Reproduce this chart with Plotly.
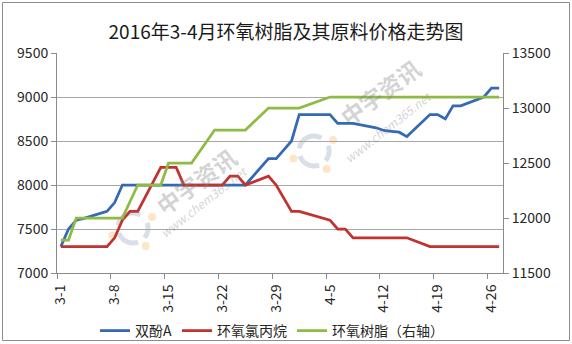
import math
import plotly.graph_objects as go

dates = ["2016-03-01", "2016-03-02", "2016-03-03", "2016-03-04", "2016-03-07", "2016-03-08",
         "2016-03-09", "2016-03-10", "2016-03-11", "2016-03-14", "2016-03-15", "2016-03-16",
         "2016-03-17", "2016-03-18", "2016-03-21", "2016-03-22", "2016-03-23", "2016-03-24",
         "2016-03-25", "2016-03-28", "2016-03-29", "2016-03-30", "2016-03-31", "2016-04-01",
         "2016-04-05", "2016-04-06", "2016-04-07", "2016-04-08", "2016-04-11", "2016-04-12",
         "2016-04-13", "2016-04-14", "2016-04-15", "2016-04-18", "2016-04-19", "2016-04-20",
         "2016-04-21", "2016-04-22", "2016-04-25", "2016-04-26", "2016-04-27"]

bpa = [7300, 7500, 7600, 7620, 7700, 7800,
       8000, 8000, 8000, 8000, 8000, 8000,
       8000, 8000, 8000, 8000, 8000, 8000,
       8000, 8300, 8300, 8400, 8500, 8800,
       8800, 8700, 8700, 8700, 8650, 8620,
       8610, 8600, 8550, 8800, 8800, 8750,
       8900, 8900, 9000, 9100, 9100]

ech = [7300, 7300, 7300, 7300, 7300, 7400,
       7600, 7700, 7700, 8200, 8200, 8200,
       8000, 8000, 8000, 8000, 8100, 8100,
       8000, 8100, 8000, 7850, 7700, 7700,
       7600, 7500, 7500, 7400, 7400, 7400,
       7400, 7400, 7400, 7300, 7300, 7300,
       7300, 7300, 7300, 7300, 7300]

epoxy = [11800, 11800, 12000, 12000, 12000, 12000,
         12000, 12150, 12300, 12300, 12500, 12500,
         12500, 12500, 12800, 12800, 12800, 12800,
         12800, 13000, 13000, 13000, 13000, 13000,
         13100, 13100, 13100, 13100, 13100, 13100,
         13100, 13100, 13100, 13100, 13100, 13100,
         13100, 13100, 13100, 13100, 13100]

tick_dates = ["2016-03-01", "2016-03-08", "2016-03-15", "2016-03-22", "2016-03-29",
              "2016-04-05", "2016-04-12", "2016-04-19", "2016-04-26"]
tick_text = ["3-1", "3-8", "3-15", "3-22", "3-29", "4-5", "4-12", "4-19", "4-26"]

series_names = ["双酚A", "环氧氯丙烷", "环氧树脂（右轴）"]
title_text = "2016年3-4月环氧树脂及其原料价格走势图"

FONT = "Noto Sans CJK SC, Noto Sans, sans-serif"
W, H = 572, 344
L, R, T, B = 57, 69, 53, 71
PW, PH = W - L - R, H - T - B

def px(x):
    return (x - L) / PW

def py(y):
    return (H - B - y) / PH

fig = go.Figure()
fig.add_trace(go.Scatter(x=dates, y=bpa, name=series_names[0], mode="lines",
                         line=dict(color="#3469b3", width=2.75)))
fig.add_trace(go.Scatter(x=dates, y=ech, name=series_names[1], mode="lines",
                         line=dict(color="#c0332e", width=2.75)))
fig.add_trace(go.Scatter(x=dates, y=epoxy, name=series_names[2], mode="lines", yaxis="y2",
                         line=dict(color="#8dbb43", width=2.75)))

# watermark (text + simple logo)
wm_color = "rgba(130,130,130,0.36)"
annotations = []
shapes = []
for (cx, cy, ux, uy) in [(196, 181, 203, 201), (380, 92, 388, 127)]:
    annotations.append(dict(text="<b>中宇资讯</b>", x=px(cx), y=py(cy), xref="paper", yref="paper",
                            xanchor="center", yanchor="middle",
                            showarrow=False, textangle=-36,
                            font=dict(size=23, color=wm_color, family=FONT)))
    annotations.append(dict(text="<i>www.chem365.net</i>", x=px(ux), y=py(uy), xref="paper", yref="paper",
                            xanchor="center", yanchor="middle",
                            showarrow=False, textangle=-38,
                            font=dict(size=12, color=wm_color, family=FONT)))

def arc_path(cx, cy, r, a0, a1, n=16):
    pts = []
    for k in range(n + 1):
        a = math.radians(a0 + (a1 - a0) * k / n)
        pts.append((px(cx + r * math.cos(a)), py(cy - r * math.sin(a))))
    return "M " + " L ".join(f"{x:.5f},{y:.5f}" for x, y in pts)

for (lx, ly) in [(133, 228), (314, 151)]:
    for (a0, a1) in [(60, 170), (200, 290), (320, 380)]:
        shapes.append(dict(type="path", xref="paper", yref="paper", path=arc_path(lx, ly, 15, a0, a1),
                           line=dict(color="rgba(150,160,190,0.35)", width=5), layer="below"))
    for ang in [30, -55, 200]:
        dx = lx + 22 * math.cos(math.radians(ang))
        dy = ly - 22 * math.sin(math.radians(ang))
        shapes.append(dict(type="circle", xref="paper", yref="paper",
                           x0=px(dx - 4), x1=px(dx + 4), y0=py(dy + 4), y1=py(dy - 4),
                           fillcolor="rgba(250,200,130,0.45)", line=dict(width=0), layer="below"))

shapes.append(dict(type="rect", xref="paper", yref="paper",
                   x0=px(2.5), x1=px(569.5), y0=py(340.5), y1=py(2.5),
                   line=dict(color="#8c8c8c", width=1), layer="below"))

fig.update_layout(
    width=W, height=H,
    margin=dict(l=L, r=R, t=T, b=B, autoexpand=False),
    paper_bgcolor="white", plot_bgcolor="white",
    font=dict(family=FONT, size=14, color="#262626"),
    title=dict(text=title_text, x=0.5, xref="container", xanchor="center",
               y=1 - 32 / H, yref="container", yanchor="middle",
               font=dict(size=19, family=FONT, color="#1a1a1a")),
    xaxis=dict(type="date", range=["2016-02-29 12:00", "2016-04-27 12:00"],
               tickmode="array", tickvals=tick_dates, ticktext=tick_text,
               tickangle=-90, ticks="outside", ticklen=5, tickcolor="rgba(0,0,0,0)",
               showline=True, linecolor="#8a8a8a", linewidth=1, showgrid=False, zeroline=False,
               tickfont=dict(size=14, family=FONT, color="#262626"),
               minor=dict(ticks="outside", ticklen=5, tickcolor="#8a8a8a", tickwidth=1,
                          dtick=7 * 86400000, tick0="2016-02-29 12:00", showgrid=False)),
    yaxis=dict(range=[7000, 9500], dtick=500, tick0=7000, showline=True, linecolor="#8a8a8a",
               ticks="outside", ticklen=5, tickcolor="#8a8a8a", tickformat="d",
               showgrid=True, gridcolor="#a8a8a8", gridwidth=1, zeroline=False,
               tickfont=dict(size=14, family=FONT, color="#262626")),
    yaxis2=dict(range=[11500, 13500], dtick=500, tick0=11500, overlaying="y", side="right",
                showline=True, linecolor="#8a8a8a", ticks="outside", ticklen=5, tickcolor="#8a8a8a",
                showgrid=False, zeroline=False, tickformat="d",
                tickfont=dict(size=14, family=FONT, color="#262626")),
    legend=dict(orientation="h", x=px(272), xanchor="center", y=py(331), yanchor="middle",
                font=dict(size=14, family=FONT, color="#262626"), itemwidth=30,
                bgcolor="rgba(0,0,0,0)", traceorder="normal"),
    annotations=annotations,
    shapes=shapes,
)

fig.write_html("out.html")
